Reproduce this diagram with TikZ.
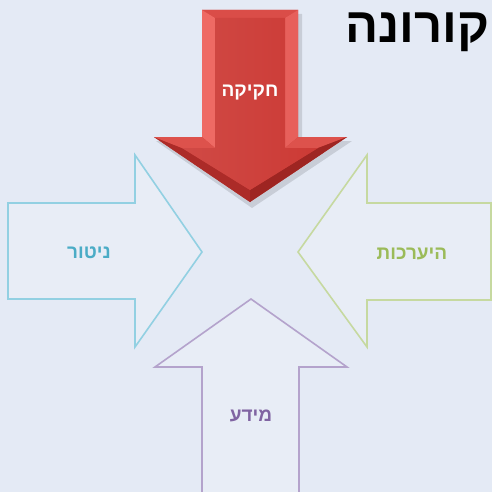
\documentclass[tikz,border=0pt]{standalone}
\usepackage{fontspec}
\newfontfamily\hebfont[Script=Hebrew]{Liberation Sans}
\TeXXeTstate=1
\usetikzlibrary{positioning}
\definecolor{bgblue}{HTML}{E4EAF5}
\definecolor{cyanline}{HTML}{92D0E2}
\definecolor{cyantext}{HTML}{4BACC6}
\definecolor{greenline}{HTML}{C6D9A0}
\definecolor{greentext}{HTML}{9BBB59}
\definecolor{purpline}{HTML}{B4A3CC}
\definecolor{purptext}{HTML}{8064A2}
\definecolor{redmain}{HTML}{CC3A35}
\definecolor{reddark}{HTML}{9E2522}
\definecolor{redlight}{HTML}{EE6A64}

\begin{document}
\begin{tikzpicture}[
    x=1pt, y=-1pt,
    outline/.style={line width=1.6pt, line join=miter, fill=bgblue!70!white, fill opacity=0.5},
    lbl/.style={font=\hebfont\bfseries\fontsize{19}{22}\selectfont, inner sep=0pt},
  ]
    % background
    \useasboundingbox (0,0) rectangle (492,492);
    \fill[bgblue] (0,0) rectangle (492,492);
    % outline arrows
    \draw[outline, draw=cyanline] (8,203) -- (135,203) -- (135,155) -- (202,252)
        -- (135,347) -- (135,299) -- (8,299) -- cycle;
    \draw[outline, draw=greenline] (491,203) -- (367,203) -- (367,155) -- (298,252)
        -- (367,347) -- (367,300) -- (491,300) -- cycle;
    \draw[outline, draw=purpline] (202,492) -- (202,367) -- (155,367) -- (251,299)
        -- (347,367) -- (299,367) -- (299,492);
    % red arrow: outer and inner outline
    \coordinate (o1) at (202,10);  \coordinate (o2) at (298,10);
    \coordinate (o3) at (298,137); \coordinate (o4) at (347,137);
    \coordinate (o5) at (250,202); \coordinate (o6) at (154,137);
    \coordinate (o7) at (202,137);
    \coordinate (i1) at (215,18);  \coordinate (i2) at (285,18);
    \coordinate (i3) at (285,148); \coordinate (i4) at (318,148);
    \coordinate (i5) at (250,190); \coordinate (i6) at (182,148);
    \coordinate (i7) at (215,148);
    \fill[black, opacity=0.12] (204,14) -- (302,14) -- (302,141) -- (352,141)
        -- (252,208) -- (156,141) -- (204,141) -- cycle;
    \fill[redmain] (o1) -- (o2) -- (o3) -- (o4) -- (o5) -- (o6) -- (o7) -- cycle;
    \fill[redlight!40!redmain] (o1) -- (o2) -- (i2) -- (i1) -- cycle;
    \fill[redlight] (o7) -- (o1) -- (i1) -- (i7) -- cycle;
    \fill[redlight!80!redmain] (o2) -- (o3) -- (i3) -- (i2) -- cycle;
    \fill[redlight!50!redmain] (o3) -- (o4) -- (i4) -- (i3) -- cycle;
    \fill[reddark] (o4) -- (o5) -- (i5) -- (i4) -- cycle;
    \fill[reddark!70!redmain] (o5) -- (o6) -- (i6) -- (i5) -- cycle;
    \fill[redlight!50!redmain] (o6) -- (o7) -- (i7) -- (i6) -- cycle;
    \shade[left color=redmain!92!white, right color=redmain] (i1) -- (i2) -- (i3)
        -- (i4) -- (i5) -- (i6) -- (i7) -- cycle;
    % labels
    \node[lbl, text=white]      (law)     at (250,93)  {\beginR חקיקה\endR};
    \node[lbl, text=cyantext]   (monitor) at (89,253)  {\beginR ניטור\endR};
    \node[lbl, text=greentext]  (prep)    at (412,254) {\beginR היערכות\endR};
    \node[lbl, text=purptext]   (info)    at (251,416) {\beginR מידע\endR};
    \node[font=\hebfont\bfseries\fontsize{49}{52}\selectfont, inner sep=0pt,
          anchor=north east] (title) at (490,13) {\beginR קורונה\endR};
  \end{tikzpicture}
\end{document}
